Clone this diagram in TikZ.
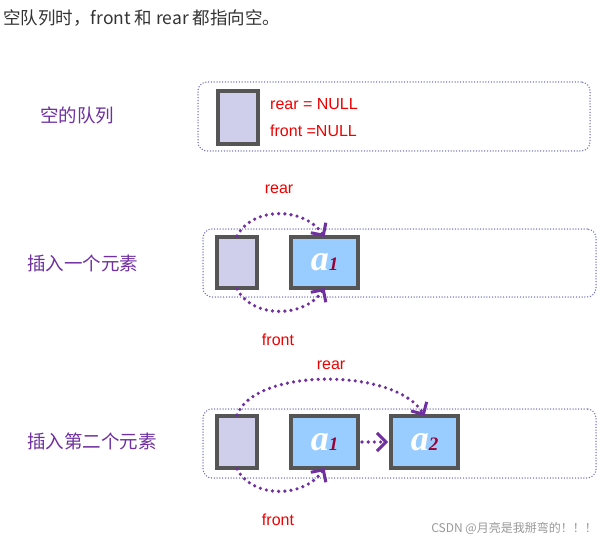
\documentclass[tikz,border=0pt]{standalone}
\usepackage{fontspec}
\setmainfont{Liberation Sans}
\newfontfamily\cjk{Noto Sans CJK SC}
\newfontfamily\tnr{Liberation Serif}
\usetikzlibrary{arrows.meta}
\definecolor{boxedge}{HTML}{555555}
\definecolor{lav}{HTML}{CFCFEC}
\definecolor{blu}{HTML}{99CCFF}
\definecolor{framec}{HTML}{7070C0}
\definecolor{arrowc}{HTML}{7030A0}
\definecolor{lbl}{HTML}{7030A0}
\definecolor{redt}{HTML}{F00000}
\definecolor{subc}{HTML}{990033}
\definecolor{titlec}{HTML}{333333}
\tikzset{
  headbox/.style={draw=boxedge, line width=4pt, fill=lav, minimum width=40pt, minimum height=53pt, inner sep=0pt},
  databox/.style={draw=boxedge, line width=4pt, fill=blu, minimum width=67pt, minimum height=52pt, inner sep=0pt},
  framebox/.style={draw=framec, line width=1.5pt, dash pattern=on 0pt off 2.8pt, line cap=round, rounded corners=9pt, inner sep=0pt},
  ptr/.style={draw=arrowc, line width=3.6pt, line cap=round, dash pattern=on 0pt off 6.2pt, -{Straight Barb[length=9pt,width=18pt,line width=3pt]}},
  redlbl/.style={text=redt, font=\fontsize{16}{18}\selectfont, inner sep=0pt},
  cnlbl/.style={text=lbl, font=\cjk\fontsize{18.5}{20}\selectfont, anchor=west, inner sep=0pt},
}
\newcommand{\elem}[1]{{\tnr\bfseries\itshape\fontsize{36}{36}\selectfont\color{white}a\color{subc}\fontsize{19}{19}\selectfont #1}}
\begin{document}
\begin{tikzpicture}[x=1pt,y=-1pt]
\useasboundingbox[fill=white] (0,0) rectangle (604,540);
% title
\node[anchor=west, inner sep=0pt, text=titlec, font=\cjk\fontsize{17.5}{19}\selectfont] (title) at (3,18) {空队列时，front 和 rear 都指向空。};
% panel 1
\node[framebox, minimum width=392pt, minimum height=69pt] (f1) at (394,116.5) {};
\node[cnlbl] (l1) at (40,115) {空的队列};
\node[headbox] (h1) at (237.5,117.5) {};
\node[redlbl, anchor=west] (rn) at (270,104) {rear = NULL};
\node[redlbl, anchor=west] (fn) at (270,131) {front =NULL};
% panel 2
\node[framebox, minimum width=393pt, minimum height=68pt] (f2) at (399.5,263) {};
\node[cnlbl] (l2) at (27,263) {插入一个元素};
\node[headbox, minimum height=51pt] (h2) at (237,262.5) {};
\node[databox, minimum height=51pt] (a1) at (324.5,262.5) {\elem{1}};
\draw[ptr] ([yshift=-1pt]h2.north) .. controls +(16,-30) and +(-20,-30) .. ([yshift=-2pt]a1.north);
\draw[ptr] ([yshift=1pt]h2.south) .. controls +(16,30) and +(-20,30) .. ([yshift=2pt]a1.south);
\node[redlbl] (r2) at (279,189) {rear};
\node[redlbl] (q2) at (278,340) {front};
% panel 3
\node[framebox, minimum width=393pt, minimum height=69pt] (f3) at (399.5,443.5) {};
\node[cnlbl] (l3) at (27,441) {插入第二个元素};
\node[headbox, minimum height=52pt] (h3) at (237,442) {};
\node[databox] (b1) at (324.5,442) {\elem{1}};
\node[databox] (b2) at (424.5,442) {\elem{2}};
\draw[ptr] ([xshift=2pt]b1.east) -- ([xshift=-1pt]b2.west);
\draw[ptr] ([yshift=-1pt]h3.north) .. controls +(18,-48) and +(-28,-48) .. ([yshift=-2pt]b2.north);
\draw[ptr] ([yshift=1pt]h3.south) .. controls +(16,30) and +(-20,30) .. ([yshift=2pt]b1.south);
\node[redlbl] (r3) at (331,365) {rear};
\node[redlbl] (q3) at (278,520) {front};
% watermark
\node[anchor=east, inner sep=0pt, text=black!40, font=\cjk\fontsize{12}{13}\selectfont] (wm) at (597,528) {CSDN @月亮是我掰弯的！！！};
\end{tikzpicture}
\end{document}
